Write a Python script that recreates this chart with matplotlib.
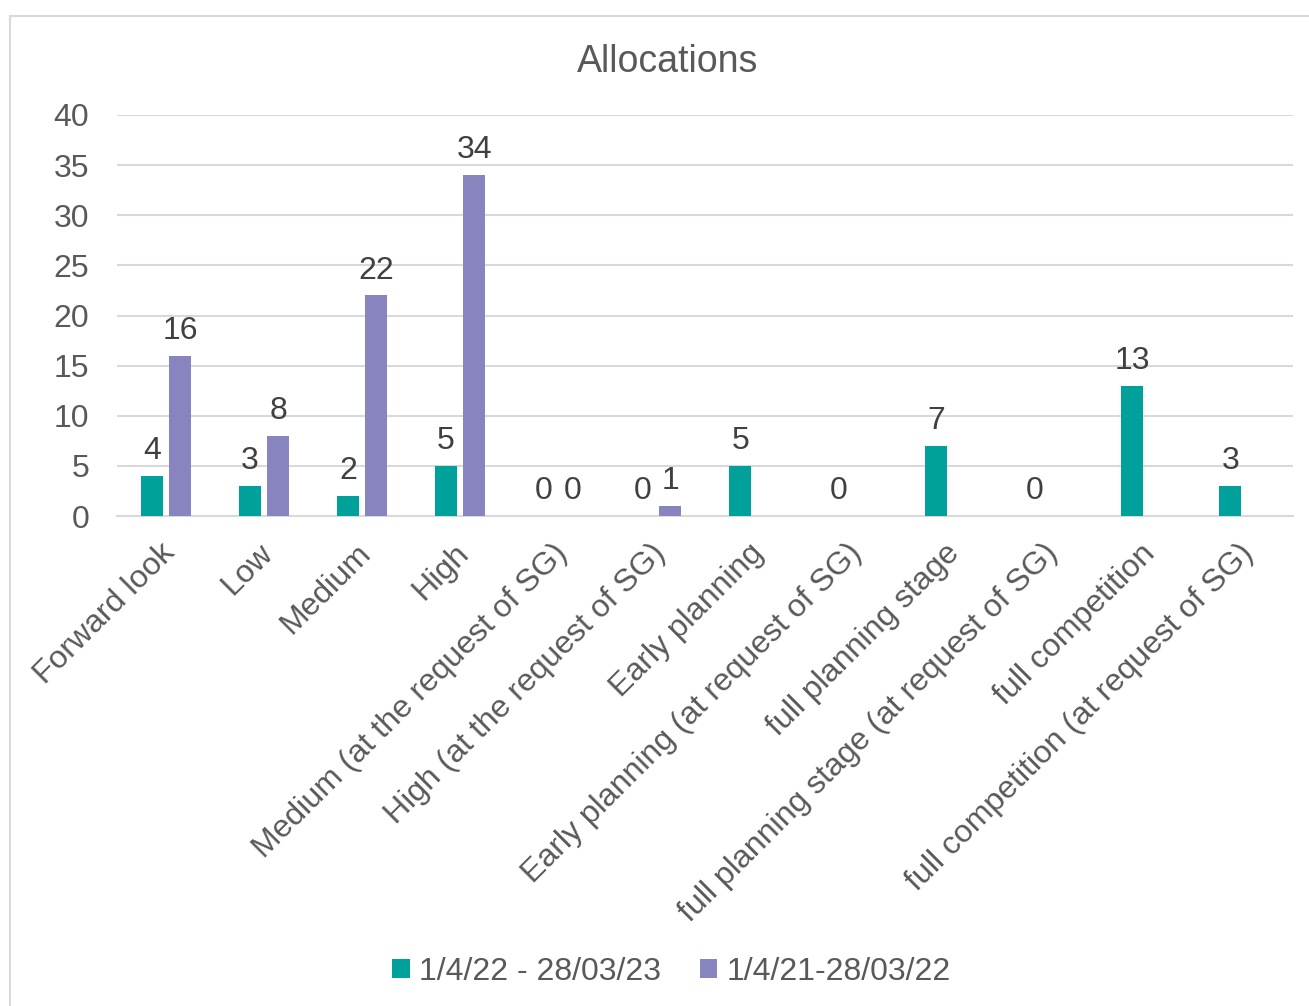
import numpy as np
import matplotlib.pyplot as plt
import matplotlib.transforms as mtransforms
from matplotlib.patches import Rectangle

plt.rcParams['font.family'] = ['Liberation Sans', 'DejaVu Sans']

categories = ["Forward look", "Low", "Medium", "High",
              "Medium (at the request of SG)", "High (at the request of SG)",
              "Early planning", "Early planning (at request of SG)",
              "full planning stage", "full planning stage (at request of SG)",
              "full competition", "full competition (at request of SG)"]
series_2223 = [4, 3, 2, 5, 0, 0, 5, 0, 7, 0, 13, 3]
series_2122 = [16, 8, 22, 34, 0, 1, np.nan, np.nan, np.nan, np.nan, np.nan, np.nan]
labels = ["1/4/22 - 28/03/23", "1/4/21-28/03/22"]
colors = ["#00A19A", "#8884C0"]

grey = "#595959"
fig = plt.figure(figsize=(13.09, 10.06), dpi=100)
ax = fig.add_axes([0.0894, 0.487, 0.8986, 0.3987])

x = np.arange(len(categories))
w = 0.22
off = 0.143
b1 = ax.bar(x - off, series_2223, w, color=colors[0], label=labels[0], zorder=3)
b2 = ax.bar(x + off, series_2122, w, color=colors[1], label=labels[1], zorder=3)

# value labels, skipped where a series has no entry
for bars, vals in [(b1, series_2223), (b2, series_2122)]:
    for rect, v in zip(bars, vals):
        if np.isnan(v):
            continue
        ax.annotate(str(int(v)), (rect.get_x() + rect.get_width() / 2, v),
                    xytext=(0, 7), textcoords="offset points",
                    ha="center", va="bottom", fontsize=23, color="#404040")

ax.set_ylim(0, 40)
ax.set_xlim(-0.5, len(categories) - 0.5)
ax.set_yticks(range(0, 41, 5))
ax.yaxis.grid(True, color="#D9D9D9", linewidth=1.5, zorder=0)
ax.set_axisbelow(True)
for s in ["top", "right", "left"]:
    ax.spines[s].set_visible(False)
ax.spines["bottom"].set_color("#D9D9D9")
ax.spines["bottom"].set_linewidth(1.5)
ax.tick_params(axis="both", length=0, labelsize=23, labelcolor=grey)
ax.tick_params(axis="y", pad=20)
ax.set_xticks(x)
ax.set_xticklabels(categories, rotation=45, ha="right", va="top",
                   rotation_mode="anchor")
ax.tick_params(axis="x", pad=16)
shift = mtransforms.ScaledTranslation(-6 / 100, 0, fig.dpi_scale_trans)
for lbl in ax.get_xticklabels():
    lbl.set_transform(lbl.get_transform() + shift)

fig.text(0.51, 0.938, "Allocations", ha="center", va="center",
         fontsize=27, color=grey)

fig.legend(handles=[b1, b2], labels=labels, loc="center",
           bbox_to_anchor=(0.513, 0.034), ncol=2, frameon=False,
           fontsize=23, labelcolor=grey, handlelength=0.55, handleheight=0.55,
           handletextpad=0.3, columnspacing=1.2)

# chart border like the Excel chart area
fig.patches.append(Rectangle((10 / 1309, -0.1), 2, 0.984 + 0.1,
                             transform=fig.transFigure, fill=False,
                             edgecolor="#D9D9D9", linewidth=1.5))

fig.savefig("out.png", dpi=100)
